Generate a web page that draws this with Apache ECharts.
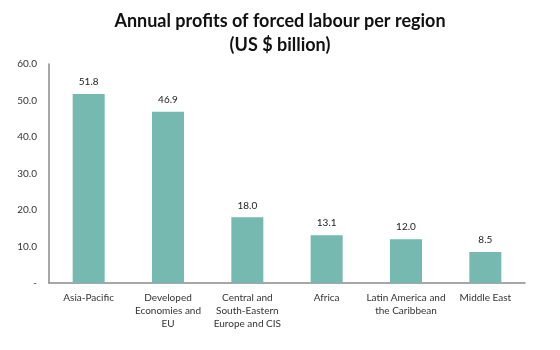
<!DOCTYPE html>
<html><head><meta charset="utf-8">
<script src="https://cdn.jsdelivr.net/npm/echarts@6/dist/echarts.min.js"></script>
<style>html,body{margin:0;padding:0;background:#fff}#c{width:560px;height:350px}</style>
</head><body><div id="c"></div>
<script>
const categories = ["Asia-Pacific","Developed\nEconomies and\nEU","Central and\nSouth-Eastern\nEurope and CIS","Africa","Latin America and\nthe Caribbean","Middle East"];
const profits = [51.8, 46.9, 18.0, 13.1, 12.0, 8.5];
const titleText = "Annual profits of forced labour per region\n(US $ billion)";
const chart = echarts.init(document.getElementById('c'));
chart.setOption({
  animation:false,
  title:{text:titleText,left:'center',top:4,itemGap:0,
    textStyle:{fontFamily:'Lato',fontWeight:'bold',fontSize:18,lineHeight:24,color:'#111'}},
  grid:{left:49,right:35,top:64,bottom:67},
  xAxis:{type:'category',data:categories,
    axisLine:{lineStyle:{color:'#8a8a8a',width:1.5}},axisTick:{show:false},
    axisLabel:{interval:0,fontFamily:'Lato',fontSize:10,color:'#333',lineHeight:13,margin:8}},
  yAxis:{type:'value',min:0,max:60,interval:10,
    axisLine:{show:true,lineStyle:{color:'#8a8a8a',width:1.5}},axisTick:{show:false},splitLine:{show:false},
    axisLabel:{fontFamily:'Lato',fontSize:10,color:'#333',margin:12,
      formatter:v=>v===0?'-':v.toFixed(1)}},
  series:[{type:'bar',data:profits,barWidth:32,itemStyle:{color:'#76b9b1'},
    label:{show:true,position:'top',fontFamily:'Lato',fontSize:10,color:'#222',distance:7,
      formatter:p=>p.value.toFixed(1)}}]
});
</script></body></html>
